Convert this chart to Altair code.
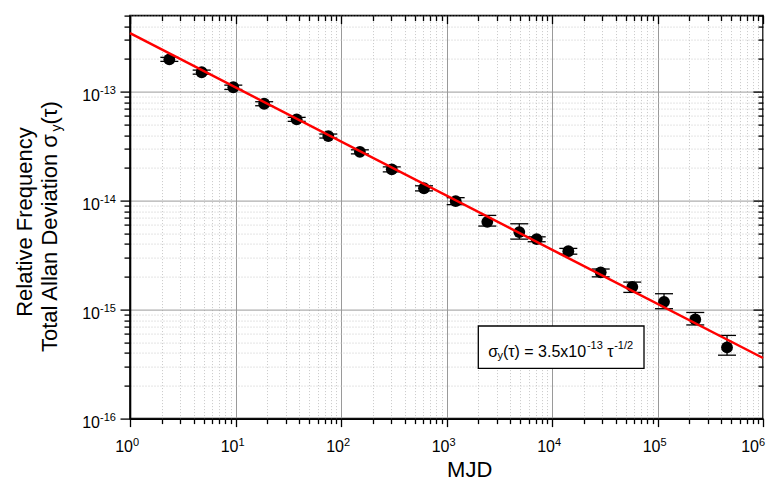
import altair as alt
import pandas as pd

FONT = "Liberation Sans"

# ---- data ----
tau = [2.36, 4.78, 9.53, 18.7, 38.0, 75.8, 151, 303, 612, 1222, 2436, 4898,
       7160, 14280, 28950, 57700, 115300, 228000, 456000]
sigma = [1.98e-13, 1.51e-13, 1.10e-13, 7.76e-14, 5.58e-14, 3.92e-14, 2.81e-14,
         1.94e-14, 1.30e-14, 9.9e-15, 6.40e-15, 5.15e-15, 4.44e-15, 3.44e-15,
         2.20e-15, 1.62e-15, 1.18e-15, 8.13e-16, 4.50e-16]
sigma_hi = [2.07e-13, 1.58e-13, 1.15e-13, 8.1e-14, 5.82e-14, 4.09e-14, 2.93e-14,
            2.04e-14, 1.37e-14, 1.066e-14, 7.33e-15, 6.14e-15, 4.66e-15, 3.65e-15,
            2.36e-15, 1.79e-15, 1.40e-15, 9.42e-16, 5.80e-16]
sigma_lo = [1.90e-13, 1.45e-13, 1.05e-13, 7.44e-14, 5.35e-14, 3.76e-14, 2.69e-14,
            1.84e-14, 1.23e-14, 9.2e-15, 5.85e-15, 4.44e-15, 4.20e-15, 3.23e-15,
            2.00e-15, 1.44e-15, 1.02e-15, 7.24e-16, 3.82e-16]

fit_tau = [1, 1e6]
fit_sigma = [3.45e-13, 3.6e-16]

x_decades = [1, 10, 100, 1000, 10000, 100000, 1000000]
x_exponents = ["0", "1", "2", "3", "4", "5", "6"]
y_decades = [1e-16, 1e-15, 1e-14, 1e-13]
y_exponents = ["-16", "-15", "-14", "-13"]
minor_mult = [1, 2, 3, 4, 5, 6, 7, 8, 9]

x_title = "MJD"
y_title_1 = "Relative Frequency"
y_title_2 = "Total Allan Deviation σ"

x_ticks = [m * d for d in x_decades[:-1] for m in minor_mult] + [x_decades[-1]]
y_ticks = [m * d for d in y_decades for m in minor_mult if m * d <= 5.0001e-13]

W, H = 633, 403
xs = alt.Scale(type="log", domain=[1, 1e6], nice=False)
ys = alt.Scale(type="log", domain=[1e-16, 5e-13], nice=False)

MAJOR = "abs(log(datum.value)/LN10 - round(log(datum.value)/LN10)) < 0.001"


def cond(a, b):
    return {"condition": {"test": MAJOR, "value": a}, "value": b}


axis_bottom = alt.Axis(orient="bottom", values=x_ticks, labels=False, title=None,
                       grid=True, gridColor=cond("#9a9a9a", "#c8c8c8"),
                       gridDash=cond([], [1, 2]), gridWidth=1,
                       tickSize=cond(8, 5), tickColor="black", tickWidth=1.3,
                       domainColor="black", domainWidth=1.6)
axis_left = alt.Axis(orient="left", values=y_ticks, labels=False, title=None,
                     grid=True, gridColor=cond("#9a9a9a", "#c8c8c8"),
                     gridDash=cond([], [1, 2]), gridWidth=1,
                     tickSize=cond(10, 6), tickColor="black", tickWidth=1.3,
                     domainColor="black", domainWidth=1.6)
axis_top = alt.Axis(orient="top", values=x_ticks, labels=False, title=None,
                    grid=False, domain=False, tickSize=cond(-8, -5),
                    tickColor="black", tickWidth=1.3)
axis_right = alt.Axis(orient="right", values=y_ticks, labels=False, title=None,
                      grid=False, domain=False, tickSize=cond(-10, -5),
                      tickColor="black", tickWidth=1.3)

df = pd.DataFrame({"tau": tau, "sigma": sigma, "hi": sigma_hi, "lo": sigma_lo})
fit_df = pd.DataFrame({"tau": fit_tau, "sigma": fit_sigma})
one = pd.DataFrame({"a": [0]})

bars = alt.Chart(df).mark_rule(color="black", strokeWidth=1.3).encode(
    x=alt.X("tau:Q", scale=xs, axis=None),
    y=alt.Y("lo:Q", scale=ys, axis=None), y2="hi:Q")
cap_hi = alt.Chart(df).mark_tick(orient="horizontal", size=18, thickness=1.3,
                                 color="black", opacity=1).encode(
    x=alt.X("tau:Q", scale=xs, axis=None), y=alt.Y("hi:Q", scale=ys, axis=None))
cap_lo = alt.Chart(df).mark_tick(orient="horizontal", size=18, thickness=1.3,
                                 color="black", opacity=1).encode(
    x=alt.X("tau:Q", scale=xs, axis=None), y=alt.Y("lo:Q", scale=ys, axis=None))
points = alt.Chart(df).mark_circle(size=140, color="black", opacity=1).encode(
    x=alt.X("tau:Q", scale=xs, axis=axis_bottom),
    y=alt.Y("sigma:Q", scale=ys, axis=axis_left))
fit = alt.Chart(fit_df).mark_line(color="#ff0000", strokeWidth=2.5).encode(
    x=alt.X("tau:Q", scale=xs, axis=axis_top),
    y=alt.Y("sigma:Q", scale=ys, axis=axis_right))

# tick labels (10 with superscript exponent)
xlab = pd.DataFrame({"v": x_decades, "b": ["10"] * len(x_decades), "e": x_exponents})
ylab = pd.DataFrame({"v": y_decades, "b": ["10"] * len(y_decades), "e": y_exponents})


def xlabels(d, dx):
    main = alt.Chart(d).mark_text(align="right", baseline="alphabetic", fontSize=16,
                                  font=FONT, dx=dx, color="black").encode(
        x=alt.X("v:Q", scale=xs, axis=None), y=alt.value(436.4), text="b:N")
    sup = alt.Chart(d).mark_text(align="left", baseline="alphabetic", fontSize=11,
                                 font=FONT, dx=dx, color="black").encode(
        x=alt.X("v:Q", scale=xs, axis=None), y=alt.value(429.9), text="e:N")
    return [main, sup]


xl_layers = xlabels(xlab.iloc[:-1], 3) + xlabels(xlab.iloc[-1:], -4)

yl_main = alt.Chart(ylab).mark_text(align="right", baseline="alphabetic", fontSize=16,
                                    font=FONT, dy=9, color="black").encode(
    x=alt.value(-30), y=alt.Y("v:Q", scale=ys, axis=None), text="b:N")
yl_sup = alt.Chart(ylab).mark_text(align="left", baseline="alphabetic", fontSize=11,
                                   font=FONT, dy=2.5, color="black").encode(
    x=alt.value(-30), y=alt.Y("v:Q", scale=ys, axis=None), text="e:N")


def txt(s, x, y, size, align="left", angle=0):
    return alt.Chart(one).mark_text(text=s, align=align, baseline="alphabetic",
                                    fontSize=size, font=FONT, angle=angle,
                                    color="black").encode(x=alt.value(x), y=alt.value(y))


titles = [
    txt(x_title, 339.7, 461.5, 22, align="center"),
    txt(y_title_1, -98, 206.4, 22, align="center", angle=270),
    txt(y_title_2, -72.7, 336.4, 22, angle=270),
    txt("y", -68.7, 116, 14, angle=270),
    txt("(τ)", -72.7, 109, 22, angle=270),
]

box = alt.Chart(one).mark_rect(fill="white", stroke="black", strokeWidth=1.3).encode(
    x=alt.value(348.3), x2=alt.value(514), y=alt.value(310.4), y2=alt.value(352.7))
legend = [
    txt("σ", 358.3, 341.1, 16),
    txt("y", 367.4, 343.4, 11),
    txt("(τ) = 3.5x10", 372.9, 341.1, 16),
    txt("-13", 456.9, 332.9, 11),
    txt("τ", 477.2, 341.1, 16),
    txt("-1/2", 484.2, 332.9, 11),
]

chart = alt.layer(
    bars, cap_hi, cap_lo, points, fit, *xl_layers, yl_main, yl_sup,
    *titles, box, *legend
).resolve_axis(x="independent", y="independent").properties(
    width=W, height=H,
    padding={"left": 122, "top": 7.6, "right": 3, "bottom": 64.4},
    autosize=alt.AutoSizeParams(type="none"),
    background="white",
).configure_view(stroke="black", strokeWidth=1.6)

chart.save("out.html", embed_options={"renderer": "svg", "actions": False})
